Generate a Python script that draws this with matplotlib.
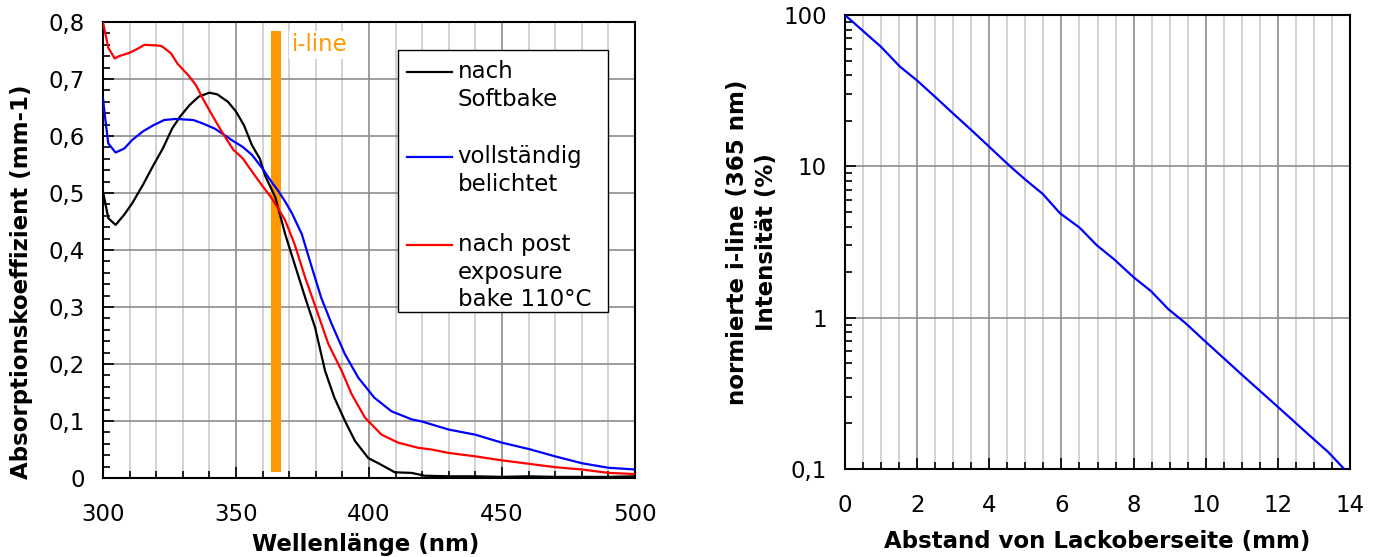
import numpy as np
import matplotlib.pyplot as plt
from matplotlib.ticker import MultipleLocator, FixedLocator, FuncFormatter, NullFormatter
from matplotlib.patches import Rectangle

# data - absorption spectra
nm_soft = [300, 302, 304.75, 308, 311, 315, 319, 322.5, 326, 329, 332.5, 336, 340, 343, 347, 350,
           353, 356, 359, 361, 364.75, 368.5, 372, 376, 379.75, 383.5, 387, 391, 394.75, 399.75,
           403.5, 409.75, 416, 421, 430, 440, 450, 460, 470, 480, 490, 500]
abs_soft = [0.503, 0.456, 0.444, 0.462, 0.482, 0.514, 0.549, 0.578, 0.613, 0.634, 0.654, 0.669,
            0.676, 0.673, 0.66, 0.643, 0.619, 0.584, 0.56, 0.53, 0.493, 0.428, 0.376, 0.317,
            0.264, 0.188, 0.141, 0.1, 0.065, 0.035, 0.026, 0.01, 0.009, 0.004, 0.003, 0.003,
            0.002, 0.003, 0.002, 0.002, 0.002, 0.003]

nm_expo = [300, 301, 302, 304.75, 308, 311, 315, 319, 323, 327.5, 334, 337.5, 342, 345.6, 349,
           352.5, 356, 360, 363, 366, 368.5, 371, 374.75, 378.5, 382, 386, 391, 396, 402, 408.5,
           416, 420, 430, 440, 450, 460, 470, 480, 490, 500]
abs_expo = [0.666, 0.625, 0.587, 0.571, 0.578, 0.593, 0.608, 0.619, 0.628, 0.63, 0.628, 0.622,
            0.613, 0.602, 0.591, 0.581, 0.567, 0.543, 0.522, 0.503, 0.485, 0.465, 0.428, 0.37,
            0.317, 0.27, 0.217, 0.176, 0.141, 0.117, 0.103, 0.099, 0.085, 0.076, 0.062, 0.051,
            0.038, 0.026, 0.018, 0.015]

nm_peb = [300, 302, 304.4, 306, 310, 313, 315.6, 320, 322, 325.6, 328, 332, 335, 337.5, 341, 345,
          349, 352.5, 356, 360, 363, 366, 368.5, 372, 376, 380, 384.75, 389.75, 393.5, 398.5,
          404.75, 411, 418.5, 423.5, 430, 440, 450, 460, 470, 480, 490, 500]
abs_peb = [0.80, 0.755, 0.736, 0.74, 0.746, 0.753, 0.76, 0.759, 0.758, 0.745, 0.727, 0.707,
           0.689, 0.666, 0.637, 0.605, 0.576, 0.561, 0.538, 0.512, 0.494, 0.472, 0.452, 0.411,
           0.352, 0.299, 0.235, 0.188, 0.147, 0.106, 0.076, 0.062, 0.053, 0.05, 0.044, 0.038,
           0.031, 0.025, 0.019, 0.015, 0.009, 0.007]

series_names = ["nach\nSoftbake", "vollständig\nbelichtet", "nach post\nexposure\nbake 110°C"]
series_colors = ["black", "#0000ff", "#ff0000"]

iline_nm = 365
iline_bottom = 0.01
iline_top = 0.785

# data - intensity vs depth
depth = [0, 0.5, 1.0, 1.52, 2.0, 2.54, 3.02, 3.5, 3.98, 4.56, 5.0, 5.48, 5.96, 6.5, 6.98, 7.46,
         8.0, 8.48, 8.96, 9.44, 9.92, 10.4, 11.0, 11.6, 12.2, 12.8, 13.4, 13.82]
intensity = [100, 78.5, 61.6, 45.7, 36.9, 28.2, 22.1, 17.4, 13.6, 10.1, 8.17, 6.58, 4.9, 3.94,
             3.01, 2.43, 1.85, 1.5, 1.14, 0.92, 0.72, 0.567, 0.42, 0.313, 0.233, 0.173, 0.129, 0.101]

plt.rcParams['font.family'] = 'DejaVu Sans'
fs = 16.5
orange = "#ff9900"
major_grid = "#8c8c8c"
minor_grid = "#cccccc"

fig = plt.figure(figsize=(13.8, 5.57), dpi=100)

comma = FuncFormatter(lambda v, p: ("%g" % v).replace(".", ","))

# left plot
ax = fig.add_axes([0.0746, 0.1418, 0.3855, 0.8187])
ax.plot(nm_soft, abs_soft, color=series_colors[0], lw=1.6, zorder=3)
ax.plot(nm_expo, abs_expo, color=series_colors[1], lw=1.6, zorder=3)
ax.plot(nm_peb, abs_peb, color=series_colors[2], lw=1.6, zorder=3)
ax.bar(iline_nm, iline_top - iline_bottom, bottom=iline_bottom, width=3.8, color=orange, zorder=2)
ax.text(iline_nm + 6, 0.76, "i-line", color=orange, fontsize=fs, va="center", zorder=4,
        bbox=dict(facecolor="white", edgecolor="none", pad=2))

ax.set_xlim(300, 500)
ax.set_ylim(0, 0.8)
ax.xaxis.set_major_locator(MultipleLocator(50))
ax.xaxis.set_minor_locator(MultipleLocator(10))
ax.yaxis.set_major_locator(MultipleLocator(0.1))
ax.yaxis.set_minor_locator(MultipleLocator(0.02))
ax.yaxis.set_major_formatter(comma)
ax.grid(which="major", color=major_grid, lw=1.2, zorder=0)
ax.grid(which="minor", axis="x", color=minor_grid, lw=1.2, zorder=0)
ax.set_axisbelow(True)
ax.tick_params(which="both", direction="in", labelsize=fs, width=1.2)
ax.tick_params(which="major", length=8)
ax.tick_params(which="minor", length=5)
ax.tick_params(axis="y", pad=13)
ax.tick_params(axis="x", pad=18)
for s in ax.spines.values():
    s.set_linewidth(1.5)
ax.set_xlabel("Wellenlänge (nm)", fontsize=fs, fontweight="bold")
ax.set_ylabel("Absorptionskoeffizient (mm-1)", fontsize=fs, fontweight="bold")
ax.xaxis.set_label_coords(0.494, -0.121)
ax.yaxis.set_label_coords(-0.132, 0.43)

# legend drawn by hand so the line sits at the first text line
ax.add_patch(Rectangle((0.5545, 0.364), 0.3945, 0.5746, transform=ax.transAxes,
                       facecolor="white", edgecolor="black", lw=1.0, zorder=5))
for name, col, y in zip(series_names, series_colors, [0.890, 0.704, 0.511]):
    ax.plot([0.571, 0.656], [y, y], color=col, lw=1.6, transform=ax.transAxes, zorder=6)
    ax.text(0.667, y + 0.026, name, transform=ax.transAxes, fontsize=fs, va="top",
            linespacing=1.25, zorder=6)

# right plot
ax2 = fig.add_axes([0.6123, 0.158, 0.366, 0.815])
ax2.plot(depth, intensity, color="#0000ff", lw=1.6, zorder=3)
ax2.set_yscale("log")
ax2.set_xlim(0, 14)
ax2.set_ylim(0.1, 100)
ax2.xaxis.set_major_locator(MultipleLocator(2))
ax2.xaxis.set_minor_locator(MultipleLocator(0.5))
ax2.yaxis.set_major_locator(FixedLocator([0.1, 1, 10, 100]))
ax2.yaxis.set_minor_locator(FixedLocator([m * d for d in [0.1, 1, 10] for m in range(2, 10)]))
ax2.yaxis.set_major_formatter(comma)
ax2.yaxis.set_minor_formatter(NullFormatter())
ax2.grid(which="major", color=major_grid, lw=1.2, zorder=0)
ax2.grid(which="minor", axis="x", color=minor_grid, lw=1.2, zorder=0)
ax2.set_axisbelow(True)
ax2.tick_params(which="both", direction="in", labelsize=fs, width=1.2)
ax2.tick_params(which="major", length=8)
ax2.tick_params(which="minor", length=5)
ax2.tick_params(axis="y", pad=13)
ax2.tick_params(axis="x", pad=18)
for s in ax2.spines.values():
    s.set_linewidth(1.5)
ax2.set_xlabel("Abstand von Lackoberseite (mm)", fontsize=fs, fontweight="bold")
ax2.set_ylabel("normierte i-line (365 nm)\nIntensität (%)", fontsize=fs, fontweight="bold",
               linespacing=1.3)
ax2.xaxis.set_label_coords(0.5, -0.134)
ax2.yaxis.set_label_coords(-0.133, 0.5)

fig.savefig("out.png", dpi=100)
